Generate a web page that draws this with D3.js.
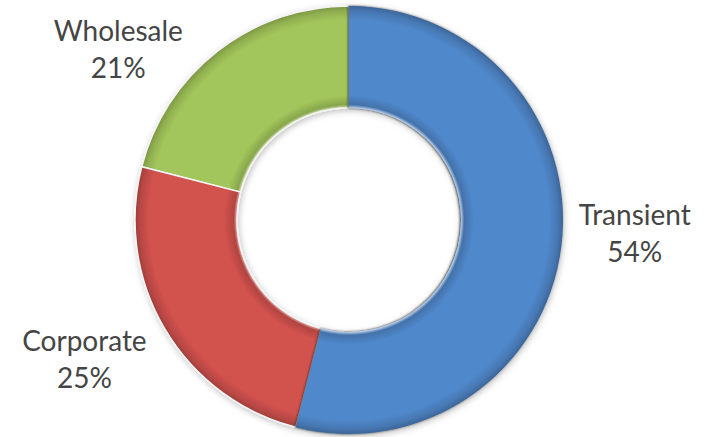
<!DOCTYPE html>
<html>
<head>
<meta charset="utf-8">
<script src="https://cdn.jsdelivr.net/npm/d3@7"></script>
<style>
  html, body { margin: 0; padding: 0; background: #fff; }
  svg { display: block; }
  .lbl { font-family: Lato, "Open Sans", sans-serif; font-size: 28px; fill: #454545; }
</style>
</head>
<body>
<div id="chart"></div>
<script>
// segment data
const categories = ["Transient", "Corporate", "Wholesale"];
const shares = [54, 25, 21];
const sliceColors = ["#5088cb", "#d2524e", "#a3c65b"];

// label nudges from the outer centroid (layout only)
const labelNudge = [[-2, -31], [-15, -17], [-53, 50]];

var width = 711, height = 437;
var cx = 349, cy = 220, outerR = 214, innerR = 112;

var svg = d3.select("#chart").append("svg")
    .attr("width", width)
    .attr("height", height);

var defs = svg.append("defs");

// soft shadow around the ring
var ringShadow = defs.append("filter").attr("id", "ringShadow")
    .attr("x", "-10%").attr("y", "-10%").attr("width", "120%").attr("height", "120%");
ringShadow.append("feDropShadow")
    .attr("dx", 1).attr("dy", 2).attr("stdDeviation", 3)
    .attr("flood-color", "#000").attr("flood-opacity", 0.25);

// dark edge the blue slice casts on its neighbours
var edgeShadow = defs.append("filter").attr("id", "edgeShadow")
    .attr("x", "-10%").attr("y", "-10%").attr("width", "120%").attr("height", "120%");
edgeShadow.append("feDropShadow")
    .attr("dx", -1).attr("dy", 0).attr("stdDeviation", 1.2)
    .attr("flood-color", "#1a1a1a").attr("flood-opacity", 0.85);

// bevel look: radial gradient from the ring's centre (paths sit in a translated group)
sliceColors.forEach((c, i) => {
    var base = d3.color(c);
    var g = defs.append("radialGradient")
        .attr("id", "grad" + i)
        .attr("gradientUnits", "userSpaceOnUse")
        .attr("cx", 0).attr("cy", 0).attr("r", outerR);
    var k = innerR / outerR;
    var stops = [
        [k, d3.interpolateRgb(base, "#fff")(0.6)],
        [k + 0.015, base.darker(0.5)],
        [k + 0.06, base],
        [0.935, base],
        [0.975, base.darker(0.35)],
        [1, base.darker(0.8)]
    ];
    stops.forEach(s => {
        g.append("stop").attr("offset", s[0]).attr("stop-color", s[1]);
    });
});

var pie = d3.pie().sort(null).value(d => d);
var arcs = pie(shares);

var arc = d3.arc().innerRadius(innerR).outerRadius(outerR);
var labelArc = d3.arc().innerRadius(290).outerRadius(290);

var ring = svg.append("g")
    .attr("transform", `translate(${cx},${cy})`)
    .attr("filter", "url(#ringShadow)");

// draw blue last so its edge shadow sits on the others
var order = [2, 1, 0];
order.forEach(i => {
    ring.append("path")
        .attr("d", arc(arcs[i]))
        .attr("fill", "url(#grad" + i + ")")
        .attr("stroke", i == 0 ? "none" : "#f4f4f4")
        .attr("stroke-width", i == 0 ? 0 : 1.5)
        .attr("filter", i == 0 ? "url(#edgeShadow)" : null);
});

// labels
var labels = svg.append("g").attr("transform", `translate(${cx},${cy})`);
arcs.forEach((a, i) => {
    var p = labelArc.centroid(a);
    var x = p[0] + labelNudge[i][0], y = p[1] + labelNudge[i][1];
    var t = labels.append("text")
        .attr("class", "lbl")
        .attr("text-anchor", "middle")
        .attr("x", x).attr("y", y);
    t.append("tspan").attr("x", x).attr("dy", 0).text(categories[i]);
    t.append("tspan").attr("x", x).attr("dy", 37).text(shares[i] + "%");
});
</script>
</body>
</html>
